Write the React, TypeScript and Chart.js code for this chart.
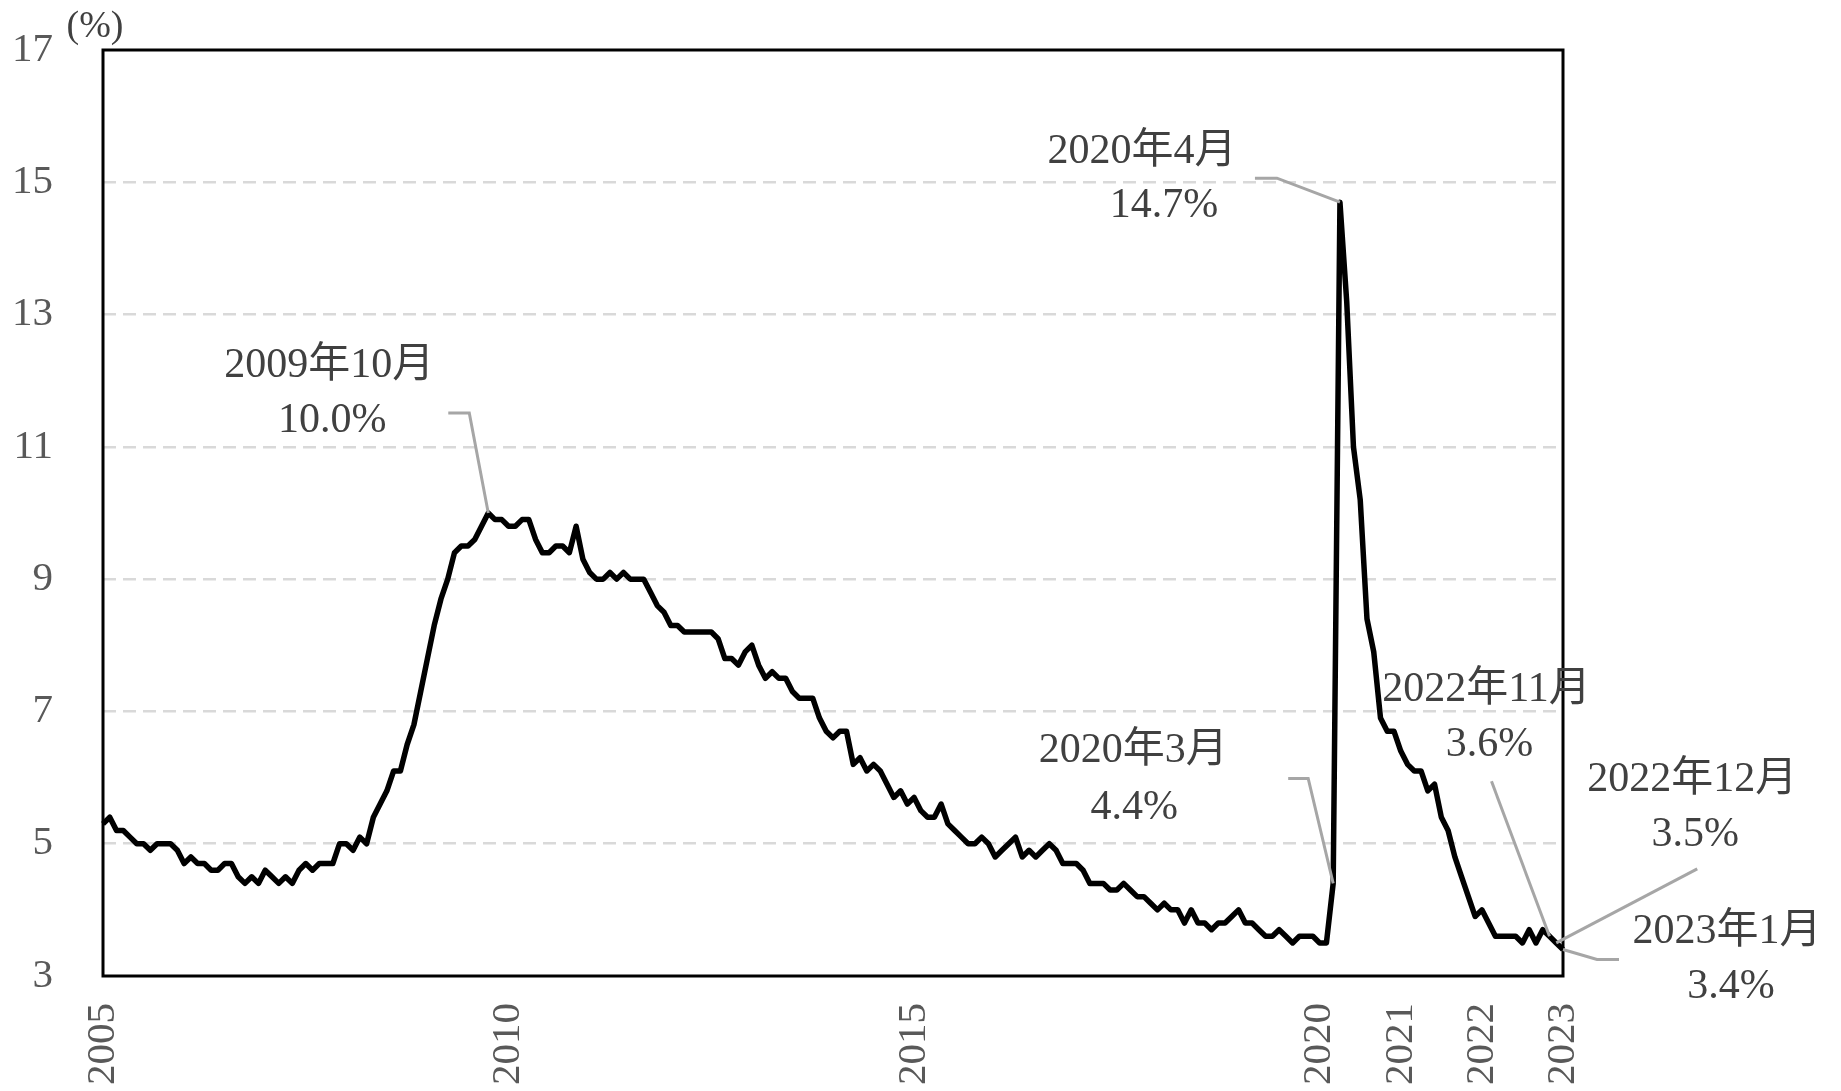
import React, { useEffect, useRef } from "react";
import { Chart, registerables } from "chart.js";

Chart.register(...registerables);

// US unemployment rate (%), monthly, Jan 2005 – Jan 2023
const y2005 = [5.3, 5.4, 5.2, 5.2, 5.1, 5.0, 5.0, 4.9, 5.0, 5.0, 5.0, 4.9];
const y2006 = [4.7, 4.8, 4.7, 4.7, 4.6, 4.6, 4.7, 4.7, 4.5, 4.4, 4.5, 4.4];
const y2007 = [4.6, 4.5, 4.4, 4.5, 4.4, 4.6, 4.7, 4.6, 4.7, 4.7, 4.7, 5.0];
const y2008 = [5.0, 4.9, 5.1, 5.0, 5.4, 5.6, 5.8, 6.1, 6.1, 6.5, 6.8, 7.3];
const y2009 = [7.8, 8.3, 8.7, 9.0, 9.4, 9.5, 9.5, 9.6, 9.8, 10.0, 9.9, 9.9];
const y2010 = [9.8, 9.8, 9.9, 9.9, 9.6, 9.4, 9.4, 9.5, 9.5, 9.4, 9.8, 9.3];
const y2011 = [9.1, 9.0, 9.0, 9.1, 9.0, 9.1, 9.0, 9.0, 9.0, 8.8, 8.6, 8.5];
const y2012 = [8.3, 8.3, 8.2, 8.2, 8.2, 8.2, 8.2, 8.1, 7.8, 7.8, 7.7, 7.9];
const y2013 = [8.0, 7.7, 7.5, 7.6, 7.5, 7.5, 7.3, 7.2, 7.2, 7.2, 6.9, 6.7];
const y2014 = [6.6, 6.7, 6.7, 6.2, 6.3, 6.1, 6.2, 6.1, 5.9, 5.7, 5.8, 5.6];
const y2015 = [5.7, 5.5, 5.4, 5.4, 5.6, 5.3, 5.2, 5.1, 5.0, 5.0, 5.1, 5.0];
const y2016 = [4.8, 4.9, 5.0, 5.1, 4.8, 4.9, 4.8, 4.9, 5.0, 4.9, 4.7, 4.7];
const y2017 = [4.7, 4.6, 4.4, 4.4, 4.4, 4.3, 4.3, 4.4, 4.3, 4.2, 4.2, 4.1];
const y2018 = [4.0, 4.1, 4.0, 4.0, 3.8, 4.0, 3.8, 3.8, 3.7, 3.8, 3.8, 3.9];
const y2019 = [4.0, 3.8, 3.8, 3.7, 3.6, 3.6, 3.7, 3.6, 3.5, 3.6, 3.6, 3.6];
const y2020 = [3.5, 3.5, 4.4, 14.7, 13.2, 11.0, 10.2, 8.4, 7.9, 6.9, 6.7, 6.7];
const y2021 = [6.4, 6.2, 6.1, 6.1, 5.8, 5.9, 5.4, 5.2, 4.8, 4.5, 4.2, 3.9];
const y2022 = [4.0, 3.8, 3.6, 3.6, 3.6, 3.6, 3.5, 3.7, 3.5, 3.7, 3.6, 3.5];
const y2023 = [3.4];

const yearlySeries: [number, number[]][] = [
  [2005, y2005], [2006, y2006], [2007, y2007], [2008, y2008], [2009, y2009],
  [2010, y2010], [2011, y2011], [2012, y2012], [2013, y2013], [2014, y2014],
  [2015, y2015], [2016, y2016], [2017, y2017], [2018, y2018], [2019, y2019],
  [2020, y2020], [2021, y2021], [2022, y2022], [2023, y2023],
];

const categories: string[] = [];
const rates: number[] = [];
yearlySeries.forEach(([yr, vals]) => {
  vals.forEach((v, i) => {
    categories.push(`${yr}/${i + 1}`);
    rates.push(v);
  });
});

const xTickYears = ["2005", "2010", "2015", "2020", "2021", "2022", "2023"];
const yMin = 3;
const yMax = 17;
const yStep = 2;
const unitLabel = "(%)";

// annotations: [category, line1, line2]
const annotationLabels: [string, string, string][] = [
  ["2009/10", "2009年10月", "10.0%"],
  ["2020/4", "2020年4月", "14.7%"],
  ["2020/3", "2020年3月", "4.4%"],
  ["2022/11", "2022年11月", "3.6%"],
  ["2022/12", "2022年12月", "3.5%"],
  ["2023/1", "2023年1月", "3.4%"],
];

// layout offsets (pixels relative to the labelled point) – styles only
const annotationLayout: Record<string, { t1: [number, number]; t2: [number, number]; leader: [number, number][] }> = {
  "2009/10": { t1: [-159, -147], t2: [-156, -92], leader: [[-19, -100], [-40, -100]] },
  "2020/4": { t1: [-198, -50], t2: [-176, 4], leader: [[-63, -24], [-85, -24]] },
  "2020/3": { t1: [-200, -132], t2: [-199, -75], leader: [[-25, -105], [-45, -105]] },
  "2022/11": { t1: [-63, -246], t2: [-60, -191], leader: [[-58, -155]] },
  "2022/12": { t1: [136, -163], t2: [139, -108], leader: [[141, -74]] },
  "2023/1": { t1: [164, -18], t2: [168, 37], leader: [[34, 10], [56, 10]] },
};

const FONT = "'Liberation Serif', 'Noto Sans CJK JP', serif";

const overlayPlugin = {
  id: "overlay",
  beforeDatasetsDraw(chart: any) {
    const { ctx, chartArea } = chart;
    ctx.save();
    ctx.strokeStyle = "#000000";
    ctx.lineWidth = 3;
    ctx.strokeRect(chartArea.left, chartArea.top, chartArea.right - chartArea.left, chartArea.bottom - chartArea.top);
    ctx.restore();
  },
  afterDraw(chart: any) {
    const { ctx, chartArea, scales } = chart;
    const xs = scales.x;
    const ys = scales.y;
    ctx.save();
    // unit label
    ctx.fillStyle = "#404040";
    ctx.font = `38px ${FONT}`;
    ctx.textAlign = "center";
    ctx.textBaseline = "middle";
    ctx.fillText(unitLabel, chartArea.left - 8, chartArea.top - 23);

    annotationLabels.forEach(([cat, l1, l2]) => {
      const idx = categories.indexOf(cat);
      const px = xs.getPixelForValue(idx);
      const py = ys.getPixelForValue(rates[idx]);
      const lay = annotationLayout[cat];
      ctx.strokeStyle = "#a6a6a6";
      ctx.lineWidth = 3;
      ctx.beginPath();
      ctx.moveTo(px, py);
      lay.leader.forEach(([dx, dy]) => ctx.lineTo(px + dx, py + dy));
      ctx.stroke();
      ctx.fillStyle = "#404040";
      ctx.font = `42px ${FONT}`;
      ctx.textAlign = "center";
      ctx.textBaseline = "middle";
      ctx.fillText(l1, px + lay.t1[0], py + lay.t1[1]);
      ctx.fillText(l2, px + lay.t2[0], py + lay.t2[1]);
    });
    ctx.restore();
  },
};

export default function App() {
  const ref = useRef<HTMLCanvasElement | null>(null);
  useEffect(() => {
    if (!ref.current) return;
    const chart = new Chart(ref.current, {
      type: "line",
      data: {
        labels: categories,
        datasets: [
          {
            data: rates,
            borderColor: "#000000",
            borderWidth: 5.5,
            pointRadius: 0,
            tension: 0,
            borderJoinStyle: "round",
            fill: false,
          },
        ],
      },
      options: {
        responsive: false,
        animation: false,
        events: [],
        layout: { padding: { left: 0, top: 50, right: 278, bottom: 0 } },
        plugins: { legend: { display: false }, tooltip: { enabled: false } },
        scales: {
          x: {
            type: "category",
            offset: false,
            grid: { display: false, drawTicks: false },
            border: { display: false },
            afterFit(scale: any) {
              scale.height = 115;
              scale.paddingLeft = 0;
              scale.paddingRight = 0;
            },
            ticks: {
              autoSkip: false,
              minRotation: 90,
              maxRotation: 90,
              padding: 27,
              color: "#595959",
              font: { family: FONT, size: 41 },
              callback(value: any) {
                const lab = categories[value as number];
                const [yr, m] = lab.split("/");
                return m === "1" && xTickYears.includes(yr) ? yr : "";
              },
            },
          },
          y: {
            min: yMin,
            max: yMax,
            afterFit(scale: any) {
              scale.width = 103;
              scale.paddingTop = 0;
              scale.paddingBottom = 0;
            },
            grid: {
              drawTicks: false,
              lineWidth: 2.5,
              color: (c: any) => (c.tick && (c.tick.value === yMin || c.tick.value === yMax) ? "rgba(0,0,0,0)" : "#d9d9d9"),
            },
            border: { display: false, dash: [13, 7] },
            ticks: {
              stepSize: yStep,
              padding: 50,
              color: "#595959",
              font: { family: FONT, size: 41 },
            },
          },
        },
      },
      plugins: [overlayPlugin],
    } as any);
    return () => chart.destroy();
  }, []);
  return (
    <div style={{ position: "fixed", left: 0, top: 0, width: 1841, height: 1091, background: "#ffffff" }}>
      <canvas ref={ref} width={1841} height={1091} />
    </div>
  );
}
